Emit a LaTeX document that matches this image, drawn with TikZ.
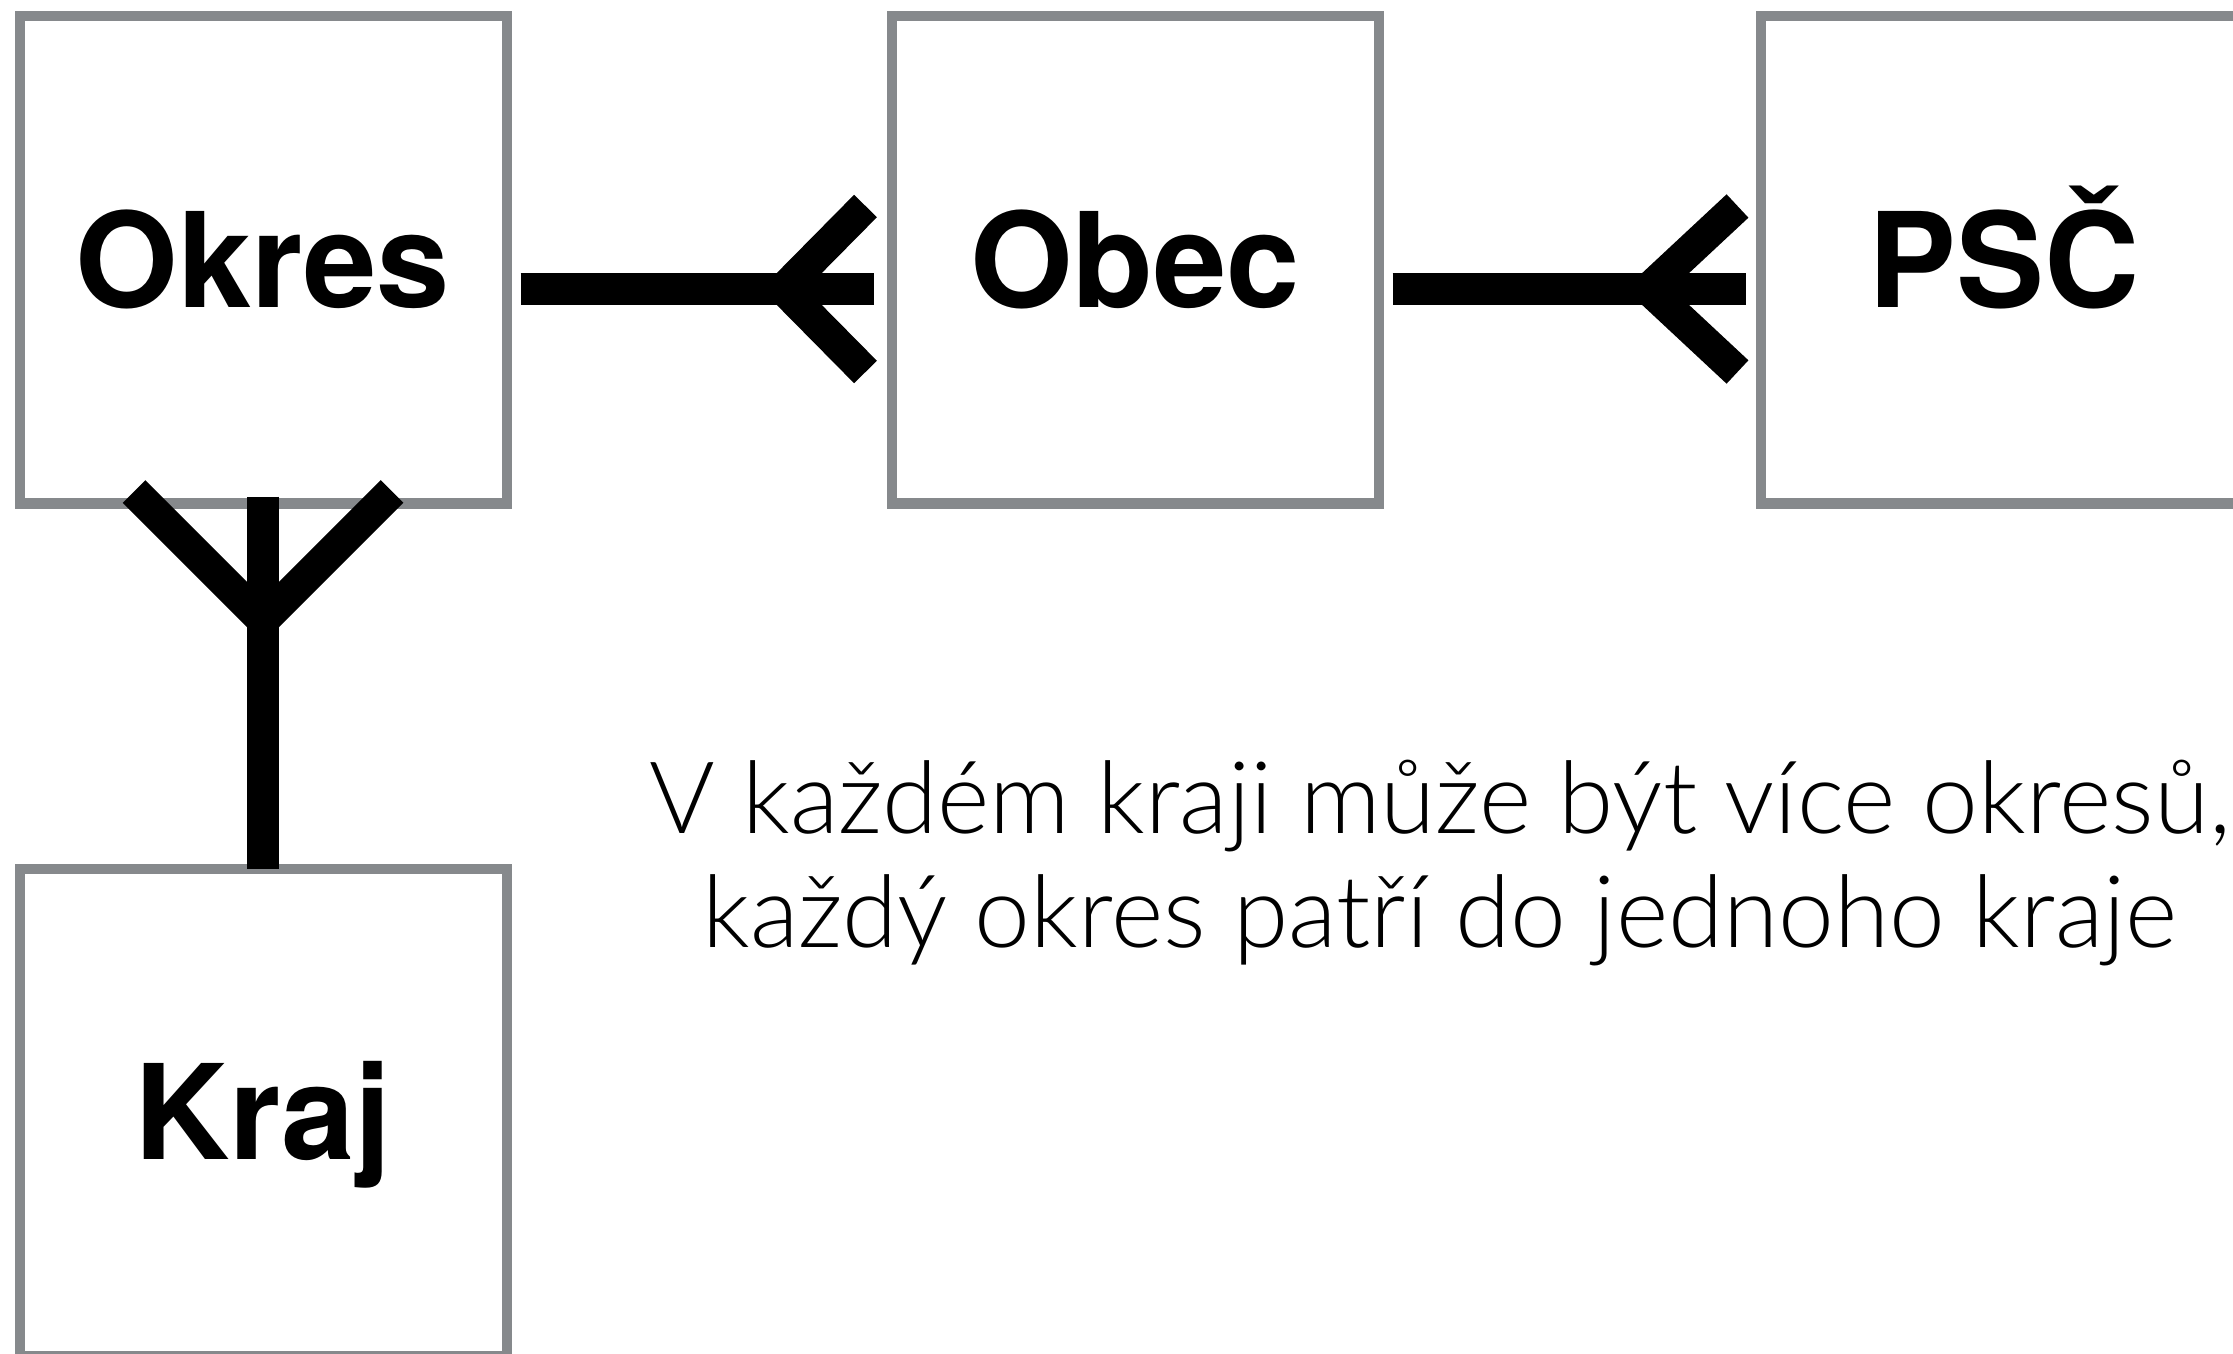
\documentclass[tikz,border=0pt]{standalone}
\usepackage{fontspec}
\setmainfont{TeX Gyre Heros}
\IfFontExistsTF{Lato Light}{\newfontfamily\thinfont{Lato Light}}{\newfontfamily\thinfont{TeX Gyre Heros}}
\usetikzlibrary{positioning}
\definecolor{boxgray}{RGB}{134,137,140}
\tikzset{
	entity/.style={draw=boxgray, line width=0.1cm, minimum width=4.87cm, minimum height=4.87cm, inner sep=0pt,
		font=\bfseries\fontsize{37.5}{45}\selectfont, text height=27pt, text depth=0pt},
	relbar/.style={line width=0.32cm, line cap=butt, miter limit=4}
}

\begin{document}
\begin{tikzpicture}
	\useasboundingbox (0,0) rectangle (22.33,-13.54);
	\node[entity] (okres) at (2.63,-2.6) {Okres};
	\node[entity, right=3.75cm of okres] (obec) {Obec};
	\node[entity, right=3.72cm of obec] (psc) {PSČ};
	\node[entity, below=3.55cm of okres] (kraj) {Kraj};
	
	\draw [relbar] ([shift={(0.09,-0.29)}]okres.east) -- ([shift={(-0.13,-0.29)}]obec.west);
	\draw [relbar] ([shift={(-0.21,0.54)}]obec.west) -- ([shift={(-1.03,-0.29)}]obec.west) -- ([shift={(-0.21,-1.12)}]obec.west);
	
	\draw [relbar] ([shift={(0.09,-0.29)}]obec.east) -- ([shift={(-0.10,-0.29)}]psc.west);
	\draw [relbar] ([shift={(-0.18,0.54)}]psc.west) -- ([shift={(-1.07,-0.29)}]psc.west) -- ([shift={(-0.18,-1.12)}]psc.west);
	
	\draw [relbar] ([yshift=0.12cm]okres.south) -- ([yshift=-0.05cm]kraj.north);
	\draw [relbar] ([shift={(-1.29,0.17)}]okres.south) -- ([yshift=-1.12cm]okres.south) -- ([shift={(1.29,0.17)}]okres.south);
	
	\node[font=\thinfont\fontsize{28.5}{32.4}\selectfont, align=center, anchor=base] (note) at (14.4,-9.47)
		{V každém kraji může být více okresů,\\každý okres patří do jednoho kraje};
\end{tikzpicture}
\end{document}
